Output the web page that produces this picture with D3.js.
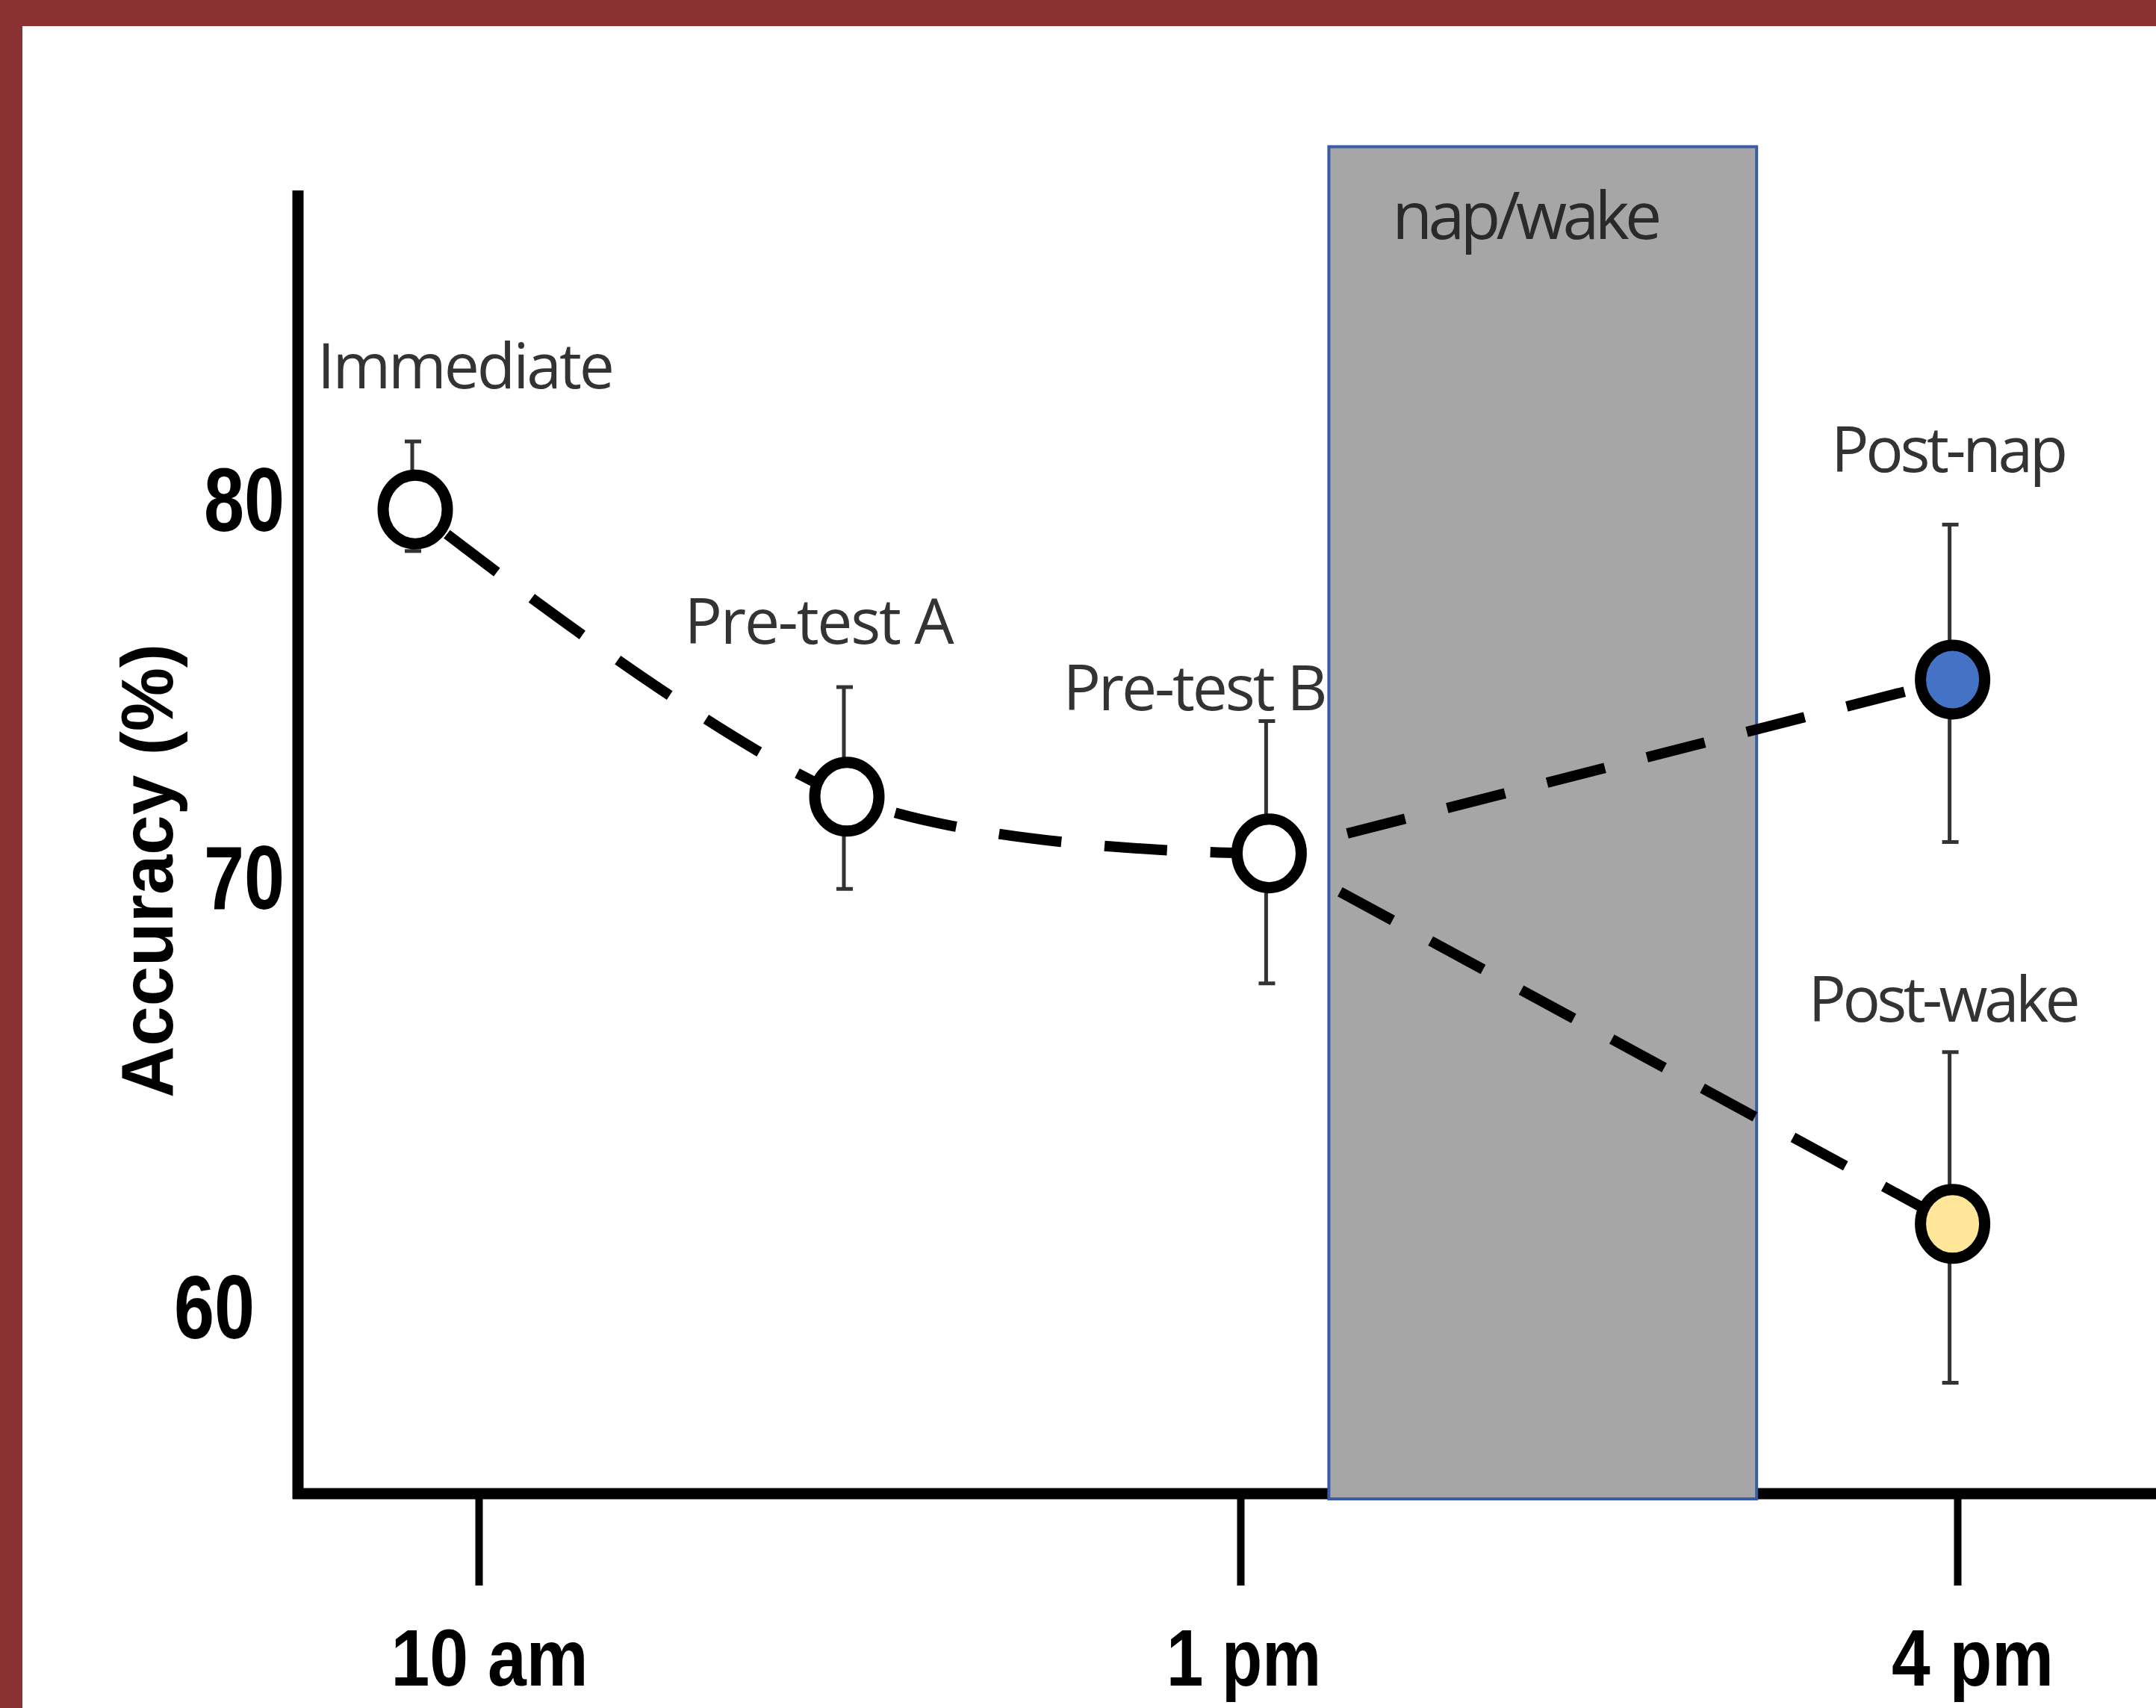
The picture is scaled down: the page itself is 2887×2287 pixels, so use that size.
<!DOCTYPE html>
<html>
<head>
<meta charset="utf-8">
<script src="https://cdn.jsdelivr.net/npm/d3@7"></script>
<style>
  html, body { margin: 0; padding: 0; background: #ffffff; }
  svg { display: block; }
</style>
</head>
<body>
<script>
// ---------------- DATA ----------------
const stages      = ["Immediate", "Pre-test A", "Pre-test B", "Post-nap", "Post-wake"];
const timeOfDay   = [9.75, 11.45, 13.12, 15.98, 15.98];   // hours
const accuracy    = [79.7, 72.1, 70.6, 75.2, 61.9];       // %
const errUpper    = [81.5, 75.0, 74.1, 79.3, 65.9];
const errLower    = [78.6, 69.7, 67.5, 70.9, 58.2];
const tickHours   = [10, 13, 16];
const tickLabels  = ["10 am", "1 pm", "4 pm"];
const yTickValues = [60, 70, 80];
const napWindow   = [13.37, 15.16];   // hours
const napTop      = 89.3;             // % (top of shaded block)
const napLabel    = "nap/wake";
const yTitle      = "Accuracy (%)";
// series: indices into the arrays above
const seriesBase  = [0, 1, 2];
const seriesNap   = [2, 3];
const seriesWake  = [2, 4];

// ---------------- LAYOUT / STYLE ----------------
const W = 2887, H = 2287;
const axisX = 399, axisY = 2000, axisTop = 255;
const markerFill = ["#ffffff", "#ffffff", "#ffffff", "#4472c4", "#ffe699"];
// label offsets relative to point (dx of centre, dy of baseline) and target widths
const labelLayout = [
  {dx: 68,  dy: -162, w: 398},
  {dx: -37, dy: -205, w: 361},
  {dx: -99, dy: -192, w: 354},
  {dx: -4,  dy: -278, w: 317},
  {dx: -11, dy: -271, w: 364}
];

const x = d3.scaleLinear().domain(tickHours).range([641, 1661, 2621]);
const y = d3.scaleLinear().domain(yTickValues).range([1748, 1173, 667]);

const svg = d3.select("body").append("svg")
  .attr("width", W).attr("height", H)
  .attr("viewBox", `0 0 ${W} ${H}`);

svg.append("rect").attr("width", W).attr("height", H).attr("fill", "#ffffff");

// maroon frame
svg.append("rect").attr("x", 0).attr("y", 0).attr("width", W).attr("height", 35).attr("fill", "#8a3131");
svg.append("rect").attr("x", 0).attr("y", 0).attr("width", 30).attr("height", H).attr("fill", "#8a3131");

const boldFont = "'Liberation Sans', Arial, sans-serif";
const labelFont = "'Open Sans', 'Noto Sans', sans-serif";

// ---------- Y axis ----------
const yAxisG = svg.append("g").attr("transform", `translate(${axisX},0)`)
  .call(d3.axisLeft(y).tickValues(yTickValues).tickSize(0).tickPadding(18).tickFormat(d3.format("d")));
yAxisG.select(".domain").remove();
const yLabelShift = {60: -40, 70: 0, 80: 0};
yAxisG.selectAll(".tick text")
  .attr("font-family", boldFont)
  .attr("font-weight", "bold")
  .attr("font-size", 120)
  .attr("fill", "#000")
  .attr("dy", "0.36em")
  .attr("dx", d => yLabelShift[d])
  .attr("textLength", 108)
  .attr("lengthAdjust", "spacingAndGlyphs");

// ---------- X axis ----------
const xAxisG = svg.append("g").attr("transform", `translate(0,${axisY})`)
  .call(d3.axisBottom(x).tickValues(tickHours).tickSize(123).tickFormat((d, i) => tickLabels[i]));
xAxisG.select(".domain").remove();
xAxisG.selectAll(".tick line").attr("stroke", "#000").attr("stroke-width", 10);
const xLabelShift = [14, 4, 20];
const xLabelWidth = [264, 207, 217];
xAxisG.selectAll(".tick text")
  .attr("font-family", boldFont)
  .attr("font-weight", "bold")
  .attr("font-size", 108)
  .attr("fill", "#000")
  .attr("y", 257)
  .attr("dy", 0)
  .attr("dx", (d, i) => xLabelShift[i])
  .attr("textLength", (d, i) => xLabelWidth[i])
  .attr("lengthAdjust", "spacingAndGlyphs");

// axis lines
svg.append("line").attr("x1", axisX).attr("x2", axisX).attr("y1", axisTop).attr("y2", axisY + 7)
  .attr("stroke", "#000").attr("stroke-width", 15);
svg.append("line").attr("x1", axisX - 7).attr("x2", W).attr("y1", axisY).attr("y2", axisY)
  .attr("stroke", "#000").attr("stroke-width", 15);

// y title
svg.append("text")
  .attr("transform", "translate(231,1166) rotate(-90)")
  .attr("text-anchor", "middle")
  .attr("font-family", boldFont)
  .attr("font-weight", "bold")
  .attr("font-size", 98)
  .attr("fill", "#000")
  .attr("textLength", 608)
  .attr("lengthAdjust", "spacingAndGlyphs")
  .text(yTitle);

// ---------- point labels ----------
const pts = stages.map((s, i) => ({
  name: s, t: timeOfDay[i], v: accuracy[i], hi: errUpper[i], lo: errLower[i], fill: markerFill[i], lay: labelLayout[i]
}));

svg.append("g").selectAll("text").data(pts).join("text")
  .attr("x", d => x(d.t) + d.lay.dx)
  .attr("y", d => y(d.v) + d.lay.dy)
  .attr("text-anchor", "middle")
  .attr("font-family", labelFont)
  .attr("font-size", 84)
  .attr("fill", "#333333")
  .attr("textLength", d => d.lay.w)
  .attr("lengthAdjust", "spacing")
  .text(d => d.name);

// ---------- nap/wake block ----------
svg.append("rect")
  .attr("x", x(napWindow[0]))
  .attr("y", y(napTop))
  .attr("width", x(napWindow[1]) - x(napWindow[0]))
  .attr("height", axisY + 7 - y(napTop))
  .attr("fill", "#a6a6a6")
  .attr("stroke", "#3a5ca6")
  .attr("stroke-width", 4);

svg.append("text")
  .attr("x", (x(napWindow[0]) + x(napWindow[1])) / 2 - 21)
  .attr("y", y(napTop) + 124)
  .attr("text-anchor", "middle")
  .attr("font-family", labelFont)
  .attr("font-size", 88)
  .attr("fill", "#2a2a2a")
  .attr("textLength", 361)
  .attr("lengthAdjust", "spacing")
  .text(napLabel);

// ---------- dashed lines ----------
const lineCurve = d3.line().x(d => x(d.t)).y(d => y(d.v)).curve(d3.curveCardinal.tension(0));
const lineStraight = d3.line().x(d => x(d.t)).y(d => y(d.v));

svg.append("path")
  .attr("d", lineCurve(seriesBase.map(i => pts[i])))
  .attr("fill", "none").attr("stroke", "#000").attr("stroke-width", 14)
  .attr("stroke-dasharray", "84,58").attr("stroke-dashoffset", 88);

[seriesNap, seriesWake].forEach(s => {
  svg.append("path")
    .attr("d", lineStraight(s.map(i => pts[i])))
    .attr("fill", "none").attr("stroke", "#000").attr("stroke-width", 14)
    .attr("stroke-dasharray", "80,58").attr("stroke-dashoffset", 30);
});

// ---------- error bars ----------
const eb = svg.append("g").attr("stroke", "#333").attr("stroke-width", 5);
eb.selectAll("line.v").data(pts).join("line").attr("class", "v")
  .attr("x1", d => x(d.t) - 4).attr("x2", d => x(d.t) - 4)
  .attr("y1", d => y(d.hi)).attr("y2", d => y(d.lo));
eb.selectAll("line.cap-hi").data(pts).join("line").attr("class", "cap-hi")
  .attr("x1", d => x(d.t) - 14).attr("x2", d => x(d.t) + 8)
  .attr("y1", d => y(d.hi)).attr("y2", d => y(d.hi));
eb.selectAll("line.cap-lo").data(pts).join("line").attr("class", "cap-lo")
  .attr("x1", d => x(d.t) - 14).attr("x2", d => x(d.t) + 8)
  .attr("y1", d => y(d.lo)).attr("y2", d => y(d.lo));

// ---------- markers ----------
svg.append("g").selectAll("ellipse").data(pts).join("ellipse")
  .attr("cx", d => x(d.t))
  .attr("cy", d => y(d.v))
  .attr("rx", 43)
  .attr("ry", 46)
  .attr("fill", d => d.fill)
  .attr("stroke", "#000")
  .attr("stroke-width", 15);
</script>
</body>
</html>
